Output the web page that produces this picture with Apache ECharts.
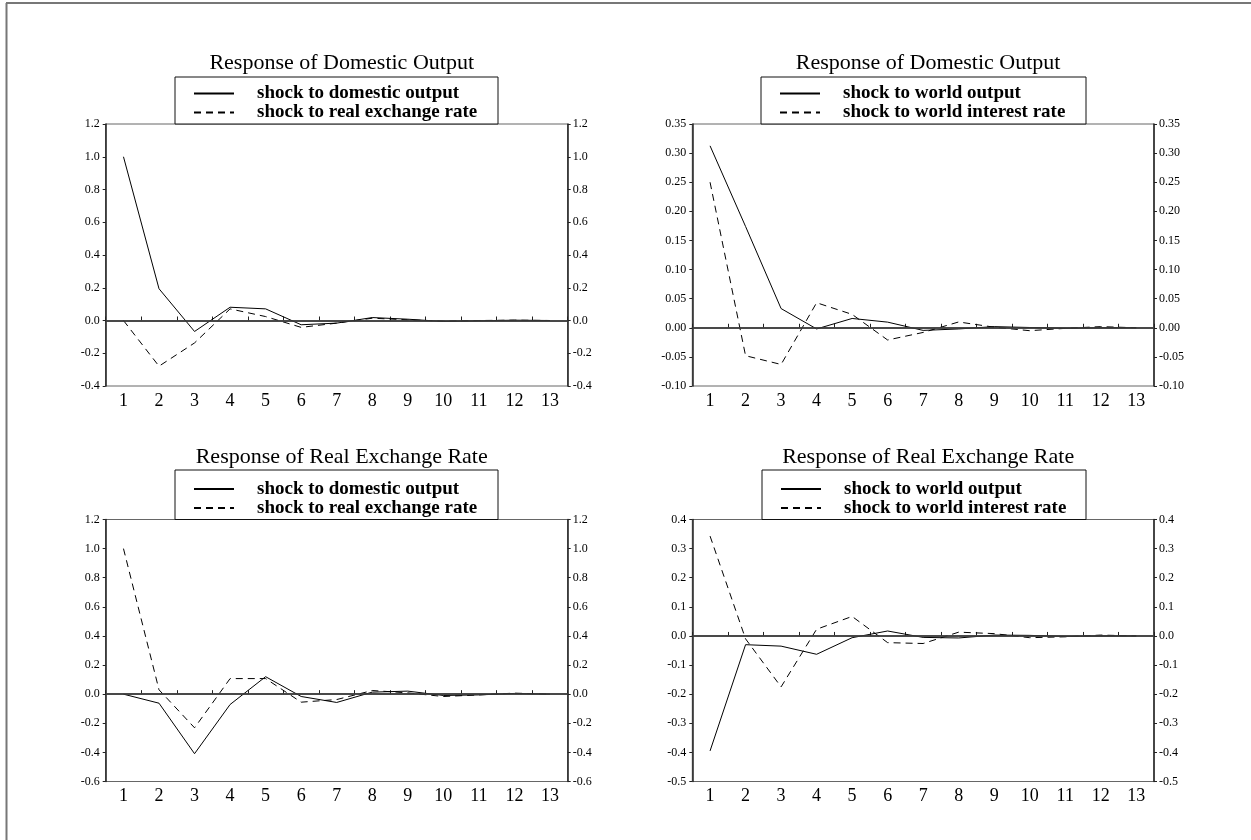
<!DOCTYPE html>
<html>
<head>
<meta charset="utf-8">
<script src="https://cdn.jsdelivr.net/npm/echarts@6/dist/echarts.min.js"></script>
<style>
html,body{margin:0;padding:0;background:#fff;}
#c{width:1251px;height:840px;}
</style>
</head>
<body>
<div id="c"></div>
<script>
// ---- data ----
const periods = ['1','2','3','4','5','6','7','8','9','10','11','12','13'];

const titles = ['Response of Domestic Output','Response of Domestic Output','Response of Real Exchange Rate','Response of Real Exchange Rate'];
const namesLeft = ['shock to domestic output','shock to real exchange rate'];
const namesRight = ['shock to world output','shock to world interest rate'];

// Panel 1: Domestic output
const p1Solid  = [1.0, 0.194, -0.067, 0.081, 0.071, -0.026, -0.016, 0.018, 0.008, -0.006, -0.002, 0.002, 0.0];
const p1Dashed = [0.0, -0.279, -0.137, 0.071, 0.024, -0.042, -0.016, 0.014, 0.004, -0.004, 0.0, 0.002, 0.0];
// Panel 2: Domestic output, world shocks
const p2Solid  = [0.3125, 0.174, 0.033, -0.002, 0.016, 0.0097, -0.0045, -0.002, 0.002, 0.0005, -0.001, 0.0, 0.0];
const p2Dashed = [0.25, -0.048, -0.063, 0.043, 0.023, -0.021, -0.008, 0.010, 0.001, -0.005, -0.001, 0.002, 0.0];
// Panel 3: Real exchange rate
const p3Solid  = [0.0, -0.062, -0.409, -0.071, 0.120, -0.016, -0.057, 0.014, 0.021, -0.009, -0.005, 0.005, 0.0];
const p3Dashed = [1.0, 0.030, -0.231, 0.107, 0.107, -0.055, -0.037, 0.025, 0.009, -0.016, -0.005, 0.007, 0.0];
// Panel 4: Real exchange rate, world shocks
const p4Solid  = [-0.395, -0.030, -0.035, -0.063, -0.006, 0.017, -0.005, -0.007, 0.003, 0.002, -0.002, 0.0, 0.0];
const p4Dashed = [0.343, -0.010, -0.175, 0.023, 0.067, -0.023, -0.026, 0.013, 0.008, -0.006, -0.003, 0.003, 0.0];

const yMins = [-0.4, -0.10, -0.6, -0.5];
const yMaxs = [1.2, 0.35, 1.2, 0.4];
const yInts = [0.2, 0.05, 0.2, 0.1];
const yDec  = [1, 2, 1, 1];

// ---- layout ----
const grids = [
  {left:105.7, top:124, width:462, height:262},
  {left:692.3, top:124, width:461.7, height:262},
  {left:105.7, top:519.5, width:462, height:262},
  {left:692.3, top:519.5, width:461.7, height:262}
];
const boxes = [
  {x:175, y:77, w:323, h:47},
  {x:761, y:77, w:325, h:47},
  {x:175, y:470, w:323, h:49.5},
  {x:762, y:470, w:324, h:49.5}
];
const serif = '"Liberation Serif","Times New Roman",serif';

const solids = [p1Solid, p2Solid, p3Solid, p4Solid];
const dashes = [p1Dashed, p2Dashed, p3Dashed, p4Dashed];

const option = {
  backgroundColor:'#fff',
  animation:false,
  grid: grids.map(g => Object.assign({show:true, borderColor:'#666', borderWidth:1, backgroundColor:'transparent'}, g)),
  xAxis: grids.map((g,i) => ({
    type:'category', gridIndex:i, data:periods, boundaryGap:true,
    axisLine:{show:true, lineStyle:{color:'#222', width:1.5}},
    axisTick:{show:true, inside:true, length:4, lineStyle:{color:'#222'}},
    axisLabel:{fontFamily:serif, fontSize:18, color:'#000', margin:6},
    splitLine:{show:false}
  })),
  yAxis: [],
  title: [],
  legend: [],
  series: [],
  graphic: []
};

for (let i=0;i<4;i++){
  const common = {
    type:'value', gridIndex:i, min:yMins[i], max:yMaxs[i], interval:yInts[i],
    axisLine:{show:true, lineStyle:{color:'#222', width:1.5}},
    axisTick:{show:true, inside:false, length:3, lineStyle:{color:'#222'}},
    splitLine:{show:false},
  };
  const dec = yDec[i];
  option.yAxis.push(Object.assign({}, common, {position:'left',
    axisLabel:{fontFamily:serif, fontSize:12, color:'#000', margin:6, formatter:v=>Number(v).toFixed(dec)}}));
  option.yAxis.push(Object.assign({}, common, {position:'right',
    axisLabel:{fontFamily:serif, fontSize:12, color:'#000', margin:5, formatter:v=>Number(v).toFixed(dec)}}));

  const g = grids[i];
  const names = (i%2===0) ? namesLeft : namesRight;
  option.title.push({
    text:titles[i], left:g.left + g.width/2, top:(i<2?58:452), textAlign:'center', textVerticalAlign:'middle',
    textStyle:{fontFamily:serif, fontSize:22, fontWeight:'normal', color:'#000'}
  });
  const b = boxes[i];
  option.graphic.push({type:'rect', z:1, shape:{x:b.x, y:b.y, width:b.w, height:b.h},
    style:{fill:'#fff', stroke:'#111', lineWidth:1}});
  option.legend.push({
    data:names, orient:'vertical', left:b.x+13, top:b.y+(i<2?2:4.5), itemWidth:40, itemHeight:14, itemGap:0,
    selectedMode:false, z:5,
    itemStyle:{opacity:0},
    textStyle:{fontFamily:serif, fontSize:19, fontWeight:'bold', color:'#000', lineHeight:18, padding:[0,0,0,18]}
  });

  option.series.push({
    name:names[0], type:'line', xAxisIndex:i, yAxisIndex:2*i, data:solids[i], symbol:'none',
    lineStyle:{color:'#000', width:1, type:'solid'}, itemStyle:{color:'#000'},
    markLine:{silent:true, symbol:'none', label:{show:false}, lineStyle:{color:'#444', width:1.5, type:'solid'}, data:[{yAxis:0}]}
  });
  option.series.push({
    name:names[1], type:'line', xAxisIndex:i, yAxisIndex:2*i, data:dashes[i], symbol:'none',
    lineStyle:{color:'#000', width:1, type:[7,5]}, itemStyle:{color:'#000'}
  });
}

// outer frame
option.graphic.push({type:'line', z:1, shape:{x1:6.5, y1:3, x2:6.5, y2:840}, style:{stroke:'#777', lineWidth:2}});
option.graphic.push({type:'line', z:1, shape:{x1:6, y1:3, x2:1251, y2:3}, style:{stroke:'#777', lineWidth:2}});

const chart = echarts.init(document.getElementById('c'), null, {renderer:'canvas'});
chart.setOption(option);
</script>
</body>
</html>
